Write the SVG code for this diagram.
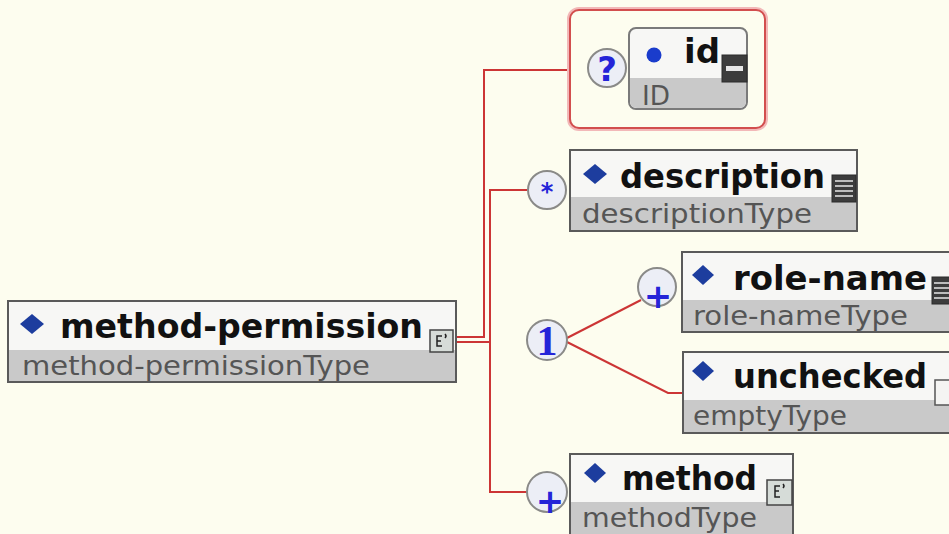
<svg xmlns="http://www.w3.org/2000/svg" width="949" height="534" viewBox="0 0 949 534">
<style>
.box{stroke:#5a5a5a;stroke-width:2;fill:#f7f7f5}
.band{fill:#c9c9c9}
.name{font-family:"DejaVu Sans",sans-serif;font-weight:bold;font-size:34px;fill:#111}
.type{font-family:"DejaVu Sans",sans-serif;font-size:27px;fill:#555}
.dia{fill:#1d3d9e}
.circ{fill:#eceef6;stroke:#8a8a88;stroke-width:2}
.sym{font-family:"DejaVu Sans",sans-serif;font-weight:bold;fill:#2424d8;text-anchor:middle}
.conn{fill:none;stroke:#cc3535;stroke-width:2}
.simple{fill:#3c3c3c;stroke:#2a2a2a;stroke-width:1}
.cplx{fill:#d6dcd8;stroke:#444;stroke-width:1.5}
</style>
<rect width="949" height="534" fill="#fdfdef"/>

<g id="connectors">
  <path class="conn" d="M456,337 H484 V70 H570"/>
  <path class="conn" d="M456,342 H490"/>
  <path class="conn" d="M527,190 H490 V492 H527"/>
  <path class="conn" d="M567,338 L641,300"/>
  <path class="conn" d="M567,342 L668,393 H683"/>
</g>

<g id="method-permission">
  <rect class="box" x="8" y="301" width="448" height="81"/>
  <rect class="band" x="9" y="350" width="446" height="31"/>
  <polygon class="dia" points="32,314 44,324 32,334 20,324"/>
  <text class="name" x="60" y="338" textLength="363" lengthAdjust="spacingAndGlyphs">method-permission</text>
  <text class="type" x="22" y="375" textLength="348" lengthAdjust="spacingAndGlyphs">method-permissionType</text>
  <rect class="cplx" x="430" y="330" width="23" height="22"/>
  <path d="M442,336 H437 V346 H442 M437,341 H441 M445,334 Q447,336 445,338" fill="none" stroke="#222" stroke-width="1.5"/>
</g>

<g id="id-group">
  <rect x="570" y="10" width="195" height="118" rx="9" fill="none" stroke="#f2b8b8" stroke-width="6"/>
  <rect x="570" y="10" width="195" height="118" rx="9" fill="#fdfdef" stroke="#d24e4e" stroke-width="2"/>
  <circle class="circ" cx="607" cy="68" r="19"/>
  <text class="sym" x="607" y="81" font-size="34">?</text>
  <g id="id">
    <rect x="629" y="28" width="118" height="81" rx="7" fill="#f7f7f5" stroke="#7a7a7a" stroke-width="2"/>
    <path d="M630,78 H746 V101 Q746,108 739,108 H637 Q630,108 630,101 Z" fill="#c9c9c9"/>
    <circle cx="654" cy="55" r="7.5" fill="#1a3ccc"/>
    <text class="name" x="684" y="63" textLength="36" lengthAdjust="spacingAndGlyphs">id</text>
    <text class="type" x="642" y="105" textLength="28" lengthAdjust="spacingAndGlyphs">ID</text>
    <rect class="simple" x="722" y="55" width="25" height="27"/>
    <rect x="726" y="66" width="17" height="5" fill="#e6e6e6"/>
  </g>
</g>

<g id="description">
  <circle class="circ" cx="547" cy="190" r="19"/>
  <text class="sym" x="547" y="200" font-size="24">*</text>
  <rect class="box" x="570" y="150" width="287" height="81"/>
  <rect class="band" x="571" y="197" width="285" height="33"/>
  <polygon class="dia" points="595,164 607,174 595,184 583,174"/>
  <text class="name" x="620" y="188" textLength="205" lengthAdjust="spacingAndGlyphs">description</text>
  <text class="type" x="582" y="223" textLength="230" lengthAdjust="spacingAndGlyphs">descriptionType</text>
  <rect class="simple" x="832" y="175" width="24" height="27"/>
  <path d="M835,181 H853 M835,186 H853 M835,191 H853 M835,196 H853" stroke="#e6e6e6" stroke-width="1.5"/>
</g>

<g id="choice">
  <circle class="circ" cx="547" cy="340" r="20"/>
  <text x="547" y="355" font-family="Liberation Serif, serif" font-weight="bold" font-size="42" fill="#2424d8" text-anchor="middle">1</text>
</g>

<g id="role-name">
  <circle class="circ" cx="657" cy="287" r="19"/>
  <text class="sym" x="658" y="308" font-size="34">+</text>
  <rect class="box" x="682" y="252" width="290" height="80"/>
  <rect class="band" x="683" y="300" width="288" height="31"/>
  <polygon class="dia" points="703,265 714,275 703,285 692,275"/>
  <text class="name" x="733" y="290" textLength="194" lengthAdjust="spacingAndGlyphs">role-name</text>
  <text class="type" x="693" y="325" textLength="215" lengthAdjust="spacingAndGlyphs">role-nameType</text>
  <rect class="simple" x="932" y="277" width="22" height="27"/>
  <path d="M934,283 H954 M934,288 H954 M934,293 H954 M934,298 H954" stroke="#e6e6e6" stroke-width="1.5"/>
</g>

<g id="unchecked">
  <rect class="box" x="683" y="352" width="290" height="81"/>
  <rect class="band" x="684" y="400" width="288" height="32"/>
  <polygon class="dia" points="703,361 714,371 703,381 692,371"/>
  <text class="name" x="733" y="388" textLength="194" lengthAdjust="spacingAndGlyphs">unchecked</text>
  <text class="type" x="693" y="425" textLength="154" lengthAdjust="spacingAndGlyphs">emptyType</text>
  <rect x="935" y="380" width="20" height="25" fill="#f4f4f2" stroke="#555" stroke-width="1.5"/>
</g>

<g id="method">
  <circle class="circ" cx="547" cy="492" r="20"/>
  <text class="sym" x="550" y="513" font-size="34">+</text>
  <rect class="box" x="570" y="454" width="223" height="90"/>
  <rect class="band" x="571" y="502" width="221" height="41"/>
  <polygon class="dia" points="595,463 606,473 595,483 584,473"/>
  <text class="name" x="622" y="490" textLength="135" lengthAdjust="spacingAndGlyphs">method</text>
  <text class="type" x="582" y="527" textLength="175" lengthAdjust="spacingAndGlyphs">methodType</text>
  <rect class="cplx" x="767" y="480" width="25" height="25"/>
  <path d="M780,486 H775 V497 H780 M775,491 H779 M783,484 Q785,486 783,488" fill="none" stroke="#222" stroke-width="1.5"/>
</g>
</svg>
